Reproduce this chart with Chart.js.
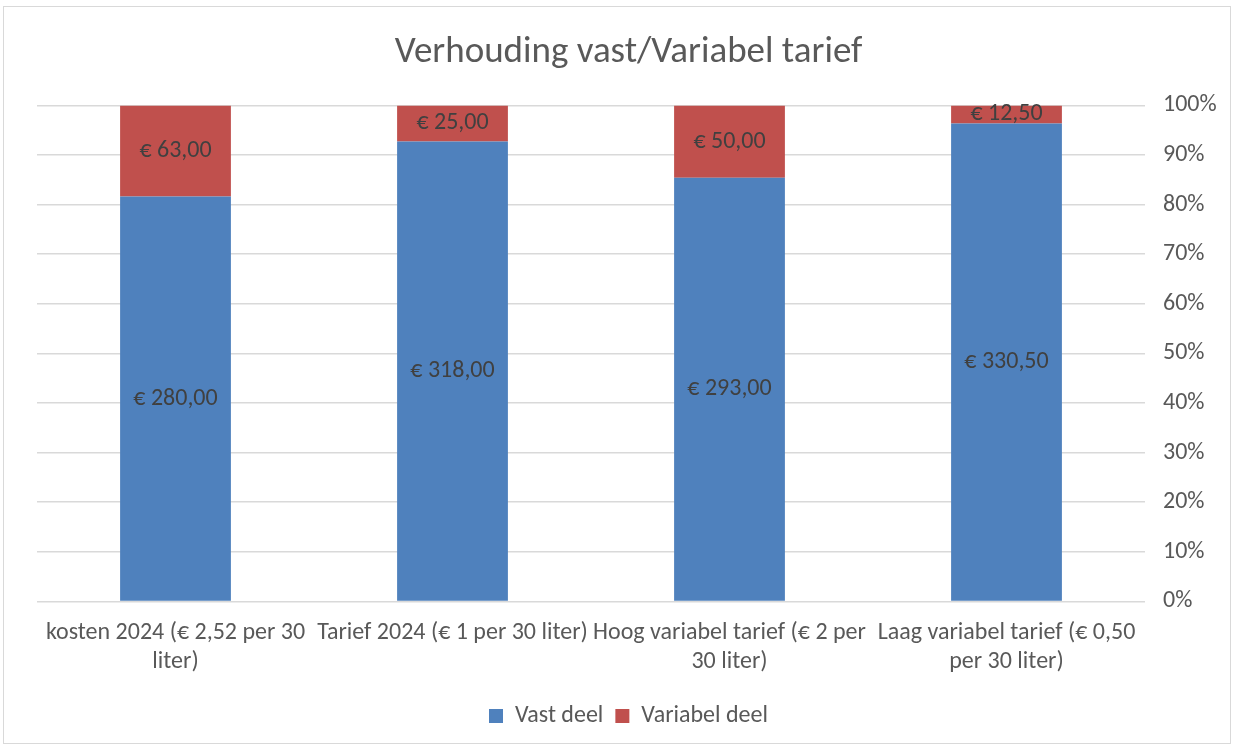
<!DOCTYPE html>
<html>
<head>
<meta charset="utf-8">
<script src="https://cdn.jsdelivr.net/npm/chart.js@4"></script>
<style>
  html, body { margin: 0; padding: 0; background: #fff; }
  #wrap { position: absolute; left: 3px; top: 6px; width: 1228px; height: 738px; border: 1px solid #d9d9d9; box-sizing: border-box; }
  #c { position: absolute; left: 0; top: 0; }
</style>
</head>
<body>
<div id="wrap"></div>
<canvas id="c" width="1234" height="746"></canvas>
<script>
const categories = [
  ['kosten 2024 (€ 2,52 per 30', 'liter)'],
  'Tarief 2024 (€ 1 per 30 liter)',
  ['Hoog variabel tarief (€ 2 per', '30 liter)'],
  ['Laag variabel tarief (€ 0,50', 'per 30 liter)']
];
const vastDeel = [280, 318, 293, 330.5];
const variabelDeel = [63, 25, 50, 12.5];
const yTicks = [0, 10, 20, 30, 40, 50, 60, 70, 80, 90, 100];

const FONT = "Carlito, 'Liberation Sans Narrow', 'Liberation Sans', sans-serif";
const totals = vastDeel.map((v, i) => v + variabelDeel[i]);
const pct = arr => arr.map((v, i) => v / totals[i] * 100);
const raw = [vastDeel, variabelDeel];

function euro(v) {
  return '€ ' + v.toFixed(2).replace('.', ',');
}

// waarde-labels midden in elk segment
const barLabels = {
  id: 'barLabels',
  afterDatasetsDraw(chart) {
    const ctx = chart.ctx;
    ctx.save();
    ctx.font = '24px ' + FONT;
    ctx.fillStyle = '#404040';
    ctx.textAlign = 'center';
    ctx.textBaseline = 'middle';
    chart.data.datasets.forEach((ds, d) => {
      chart.getDatasetMeta(d).data.forEach((bar, i) => {
        ctx.fillText(euro(raw[d][i]), bar.x, (bar.y + bar.base) / 2);
      });
    });
    ctx.restore();
  }
};

Chart.defaults.font.family = FONT;
Chart.defaults.color = '#595959';

new Chart(document.getElementById('c'), {
  type: 'bar',
  data: {
    labels: categories,
    datasets: [
      { label: 'Vast deel', data: pct(vastDeel), backgroundColor: '#4f81bd' },
      { label: 'Variabel deel', data: pct(variabelDeel), backgroundColor: '#c0504d' }
    ]
  },
  options: {
    responsive: false,
    animation: false,
    layout: { padding: { left: 37, right: 14, top: 0, bottom: 8 } },
    datasets: { bar: { categoryPercentage: 1, barPercentage: 0.4 } },
    plugins: {
      title: {
        display: true,
        text: 'Verhouding vast/Variabel tarief',
        font: { size: 37, weight: 'normal' },
        color: '#595959',
        padding: { top: 31, bottom: 30 }
      },
      legend: {
        position: 'bottom',
        labels: { boxWidth: 14, boxHeight: 14, font: { size: 24 }, color: '#595959', padding: 12 }
      },
      tooltip: { enabled: false }
    },
    scales: {
      x: {
        stacked: true,
        grid: { display: false },
        border: { display: false },
        afterFit: axis => { axis.height += 7; },
        ticks: { font: { size: 24, lineHeight: 1.2 }, color: '#595959', maxRotation: 0, autoSkip: false, padding: 9 }
      },
      y: {
        stacked: true,
        position: 'right',
        min: 0,
        max: 100,
        afterBuildTicks: axis => { axis.ticks = yTicks.map(v => ({ value: v })); },
        afterFit: axis => { axis.width = 75; },
        grid: { color: '#d9d9d9', lineWidth: 1.5, drawTicks: false },
        border: { display: false },
        ticks: { font: { size: 24 }, color: '#595959', padding: 18, callback: v => v + '%' }
      }
    }
  },
  plugins: [barLabels]
});
</script>
</body>
</html>
